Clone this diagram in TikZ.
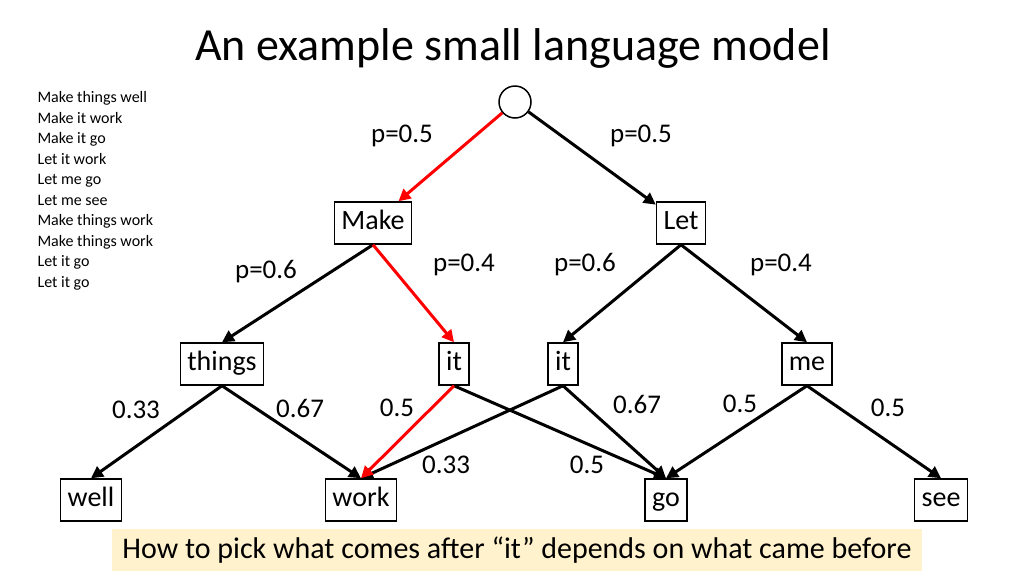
\documentclass[tikz,border=0pt]{standalone}
\usepackage{fontspec}
\setmainfont{Carlito}
\usetikzlibrary{arrows.meta, positioning}
\definecolor{capfill}{RGB}{255,242,204}
\tikzset{
	word/.style={draw, line width=1.5pt, inner xsep=7pt, text height=18pt, text depth=6pt, minimum height=42pt, font=\fontsize{28}{30}\selectfont},
	edge/.style={line width=3pt, -{Triangle[length=12pt,width=12pt]}},
	hot/.style={edge, red},
	prob/.style={font=\fontsize{27}{30}\selectfont}
}
\begin{document}
\begin{tikzpicture}[x=1pt,y=-1pt]
	\useasboundingbox (0,0) rectangle (1024,576);
	\node[font=\fontsize{46}{50}\selectfont] (title) at (513,48) {An example small language model};
	\node[anchor=north west, align=left, font=\fontsize{16}{20.5}\selectfont] (corpus) at (34,88)
		{Make things well\\Make it work\\Make it go\\Let it work\\Let me go\\Let me see\\Make things work\\Make things work\\Let it go\\Let it go};
	% tree
	\node[draw, circle, line width=1.5pt, minimum size=32pt, inner sep=0pt] (root) at (515,102) {};
	\node[word] (make) at (373,223) {Make};
	\node[word] (let) at (681,223) {Let};
	\node[word] (things) at (222,364) {things};
	\node[word] (it1) at (454,364) {it};
	\node[word] (it2) at (563,364) {it};
	\node[word] (me) at (807,364) {me};
	\node[word] (well) at (91,500) {well};
	\node[word] (work) at (361,500) {work};
	\node[word] (go) at (666,500) {go};
	\node[word] (see) at (941,500) {see};
	% connectors
	\draw[hot] (root) -- (make);
	\draw[edge] (root) -- (let);
	\draw[edge] (make.south) -- (things.north);
	\draw[hot] (make.south) -- (it1.north);
	\draw[edge] (let.south) -- (it2.north);
	\draw[edge] (let.south) -- (me.north);
	\draw[edge] (things.south) -- (well.north);
	\draw[edge] (things.south) -- (work.north);
	\draw[edge] (it1.south) -- (go.north);
	\draw[edge] (it2.south) -- (work.north);
	\draw[edge] (it2.south) -- (go.north);
	\draw[hot] (it1.south) -- (work.north);
	\draw[edge] (me.south) -- (go.north);
	\draw[edge] (me.south) -- (see.north);
	% labels
	\node[prob] (pa) at (402,136) {p=0.5};
	\node[prob] (pb) at (641,136) {p=0.5};
	\node[prob] (pc) at (266,272) {p=0.6};
	\node[prob] (pd) at (464,265) {p=0.4};
	\node[prob] (pe) at (585,265) {p=0.6};
	\node[prob] (pf) at (781,265) {p=0.4};
	\node[prob] (qa) at (136,410) {0.33};
	\node[prob] (qb) at (300,408) {0.67};
	\node[prob] (qc) at (397,408) {0.5};
	\node[prob] (qd) at (446,465) {0.33};
	\node[prob] (qe) at (587,465) {0.5};
	\node[prob] (qf) at (637,404) {0.67};
	\node[prob] (qg) at (740,404) {0.5};
	\node[prob] (qh) at (888,408) {0.5};
	\node[fill=capfill, minimum width=810pt, minimum height=42pt, font=\fontsize{30}{32}\selectfont] (caption) at (517,550)
		{How to pick what comes after “it” depends on what came before};
\end{tikzpicture}
\end{document}
